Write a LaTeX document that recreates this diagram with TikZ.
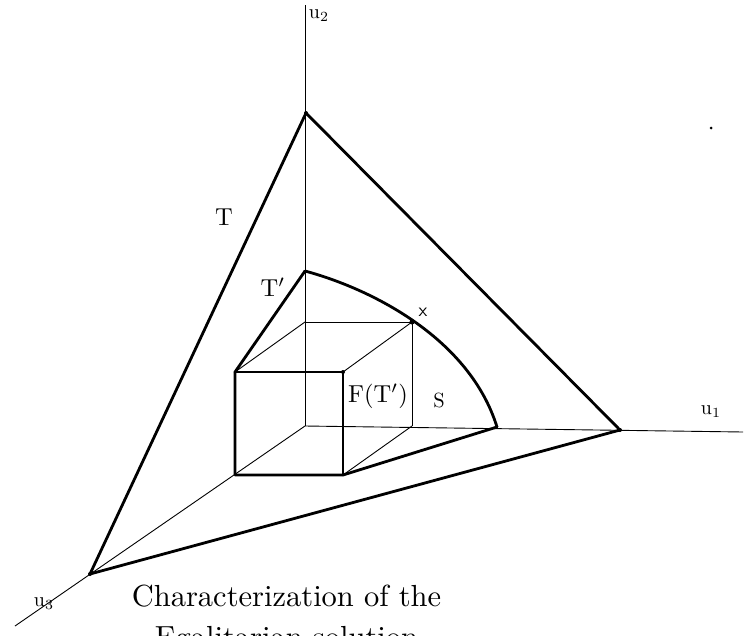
\documentclass[tikz,border=0pt]{standalone}
\begin{document}
\begin{tikzpicture}[x=1pt,y=-1pt,
  thin line/.style={line width=0.9pt},
  bold line/.style={line width=2.8pt,line join=round,line cap=round},
  lab/.style={inner sep=0pt,font=\fontsize{10}{12}\selectfont},
  pt/.style={circle,fill=black,inner sep=0pt,minimum size=5pt}]
\useasboundingbox (0,0) rectangle (755,635);
% axes ends and origin
\coordinate (O) at (305,426);
\coordinate (u2end) at (305,5);
\coordinate (u1end) at (743,432);
\coordinate (u3end) at (15,626);
% triangle T
\coordinate (Ta) at (306,113);
\coordinate (Tb) at (620,430);
\coordinate (Tc) at (90,574);
% T'
\coordinate (Pt) at (305,271);
\coordinate (Pr) at (497,427);
% box
\coordinate (A) at (235,372);
\coordinate (B) at (343,372);
\coordinate (C) at (343,475);
\coordinate (D) at (235,475);
\coordinate (E) at (305,322);
\coordinate (X) at (412,322);
\coordinate (G) at (412,426);
% axes
\draw[thin line] (u2end) -- (O);
\draw[thin line] (O) -- (u1end);
\draw[thin line] (O) -- (u3end);
% thin box edges
\draw[thin line] (E) -- (X) -- (G);
\draw[thin line] (A) -- (E);
\draw[thin line] (B) -- (X);
\draw[thin line] (C) -- (G);
% triangle T
\draw[bold line] (Ta) -- (Tb) -- (Tc) -- cycle;
% T' and S
\draw[bold line] (Pt) .. controls (375,290) and (470,340) .. (Pr);
\draw[bold line] (Pt) -- (A) -- (D) -- (C) -- (Pr);
\draw[bold line] (A) -- (B) -- (C);
% points
\node[pt] (pX) at (X) {};
\node[pt,minimum size=4pt] (pB) at (B) {};
\node[pt,minimum size=4pt] (pTa) at (Ta) {};
\node[pt,minimum size=4pt] (pTb) at (Tb) {};
\node[pt,minimum size=4pt] (pTc) at (Tc) {};
\node[pt,minimum size=3pt] (spot) at (711,128) {};
% labels
\node[lab,scale=2] (lu2) at (319,16) {u$_2$};
\node[lab,scale=2] (lu1) at (711,412) {u$_1$};
\node[lab,scale=2] (lu3) at (44,604) {u$_3$};
\node[lab,scale=2.45] (lT) at (224,217) {T};
\node[lab,scale=2.45] (lTp) at (273,287) {T$'$};
\node[lab,scale=1.9,font=\sffamily\fontsize{10}{12}\selectfont] (lx) at (423,312) {x};
\node[lab,scale=2.45] (lF) at (378,396) {F(T$'$)};
\node[lab,scale=2.05] (lS) at (439,400) {S};
\node[lab,scale=3.05,font=\fontsize{10}{13.5}\selectfont,align=center,anchor=north] (cap) at (286.5,584) {Characterization of the\\Egalitarian solution};
\end{tikzpicture}
\end{document}
